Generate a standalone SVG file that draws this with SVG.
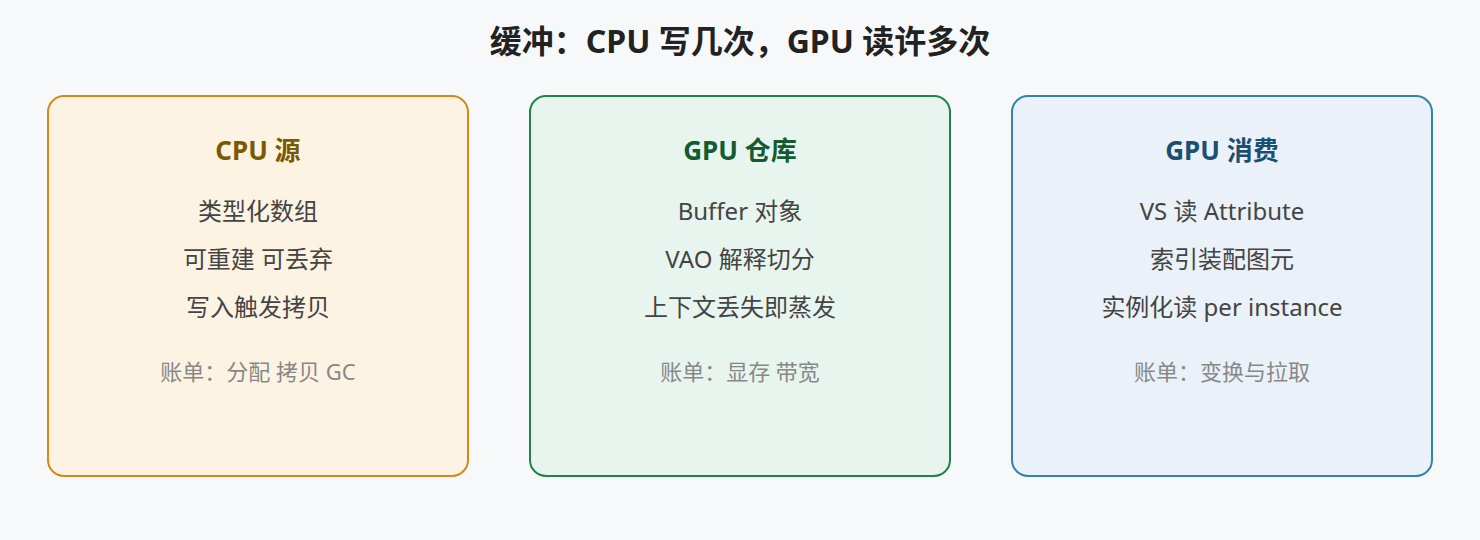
<svg xmlns="http://www.w3.org/2000/svg" width="1480" height="540" viewBox="0 0 1480 540">
<style>
text{font-family:"Noto Sans","Noto Sans CJK SC",sans-serif;text-anchor:middle}
.title{font-size:32px;font-weight:700;fill:#222}
.h{font-size:26px;font-weight:700}
.b{font-size:24px;fill:#444}
.n{font-size:22px;fill:#888}
.box{stroke-width:2}
</style>
<rect width="1480" height="540" fill="#f7f8fa"/>
<text class="title" x="740" y="53">缓冲：CPU 写几次，GPU 读许多次</text>
<g id="connectors"></g>
<g id="cpu">
<rect class="box" x="48" y="96" width="420" height="380" rx="16" fill="#fdf3e3" stroke="#d4891a"/>
<text class="h" x="258" y="160" fill="#7a5a00">CPU 源</text>
<text class="b" x="258" y="220">类型化数组</text>
<text class="b" x="258" y="268">可重建 可丢弃</text>
<text class="b" x="258" y="316">写入触发拷贝</text>
<text class="n" x="258" y="380">账单：分配 拷贝 GC</text>
</g>
<g id="gpu-store">
<rect class="box" x="530" y="96" width="420" height="380" rx="16" fill="#e8f5ee" stroke="#1e8449"/>
<text class="h" x="740" y="160" fill="#145a32">GPU 仓库</text>
<text class="b" x="740" y="220">Buffer 对象</text>
<text class="b" x="740" y="268">VAO 解释切分</text>
<text class="b" x="740" y="316">上下文丢失即蒸发</text>
<text class="n" x="740" y="380">账单：显存 带宽</text>
</g>
<g id="gpu-consume">
<rect class="box" x="1012" y="96" width="420" height="380" rx="16" fill="#eaf1f8" stroke="#2e86ab"/>
<text class="h" x="1222" y="160" fill="#1b4f72">GPU 消费</text>
<text class="b" x="1222" y="220">VS 读 Attribute</text>
<text class="b" x="1222" y="268">索引装配图元</text>
<text class="b" x="1222" y="316">实例化读 per instance</text>
<text class="n" x="1222" y="380">账单：变换与拉取</text>
</g>
</svg>
